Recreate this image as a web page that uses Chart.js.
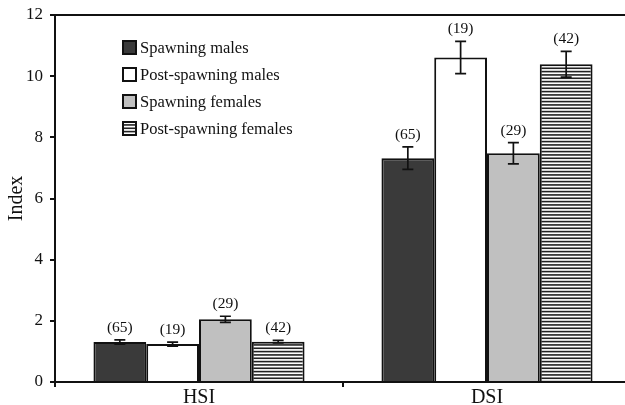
<!DOCTYPE html>
<html>
<head>
<meta charset="utf-8">
<script src="https://cdn.jsdelivr.net/npm/chart.js@4.4.1/dist/chart.umd.min.js"></script>
<style>
html,body{margin:0;padding:0;background:#fff;overflow:hidden;width:625px;height:405px;}
canvas{display:block;}
</style>
</head>
<body>
<canvas id="c" width="632" height="405"></canvas>
<script>
// ---- data ----
const categories = ["HSI", "DSI"];
const seriesNames = ["Spawning males", "Post-spawning males", "Spawning females", "Post-spawning females"];
const spawningMales = [1.31, 7.32];
const postSpawningMales = [1.24, 10.61];
const spawningFemales = [2.05, 7.48];
const postSpawningFemales = [1.32, 10.39];
const errSpawningMales = [0.07, 0.37];
const errPostSpawningMales = [0.065, 0.53];
const errSpawningFemales = [0.1, 0.35];
const errPostSpawningFemales = [0.04, 0.42];
const nSpawningMales = [65, 65];
const nPostSpawningMales = [19, 19];
const nSpawningFemales = [29, 29];
const nPostSpawningFemales = [42, 42];
const yTicks = [0, 2, 4, 6, 8, 10, 12];

const SERIF = '"Liberation Serif", "DejaVu Serif", serif';
const INK = '#111111';

function stripePattern(ctx) {
  const p = document.createElement('canvas');
  p.width = 8; p.height = 10;
  const g = p.getContext('2d');
  g.fillStyle = '#ffffff';
  g.fillRect(0, 0, 8, 10);
  g.fillStyle = '#222222';
  [0, 3.33, 6.67].forEach(y => g.fillRect(0, y + 0.8, 8, 1.6));
  return ctx.createPattern(p, 'repeat');
}

const ctx = document.getElementById('c').getContext('2d');
const stripes = stripePattern(ctx);

const fills = ['#3a3a3a', '#ffffff', '#c0c0c0', stripes];
const values = [spawningMales, postSpawningMales, spawningFemales, postSpawningFemales];
const errors = [errSpawningMales, errPostSpawningMales, errSpawningFemales, errPostSpawningFemales];
const counts = [nSpawningMales, nPostSpawningMales, nSpawningFemales, nPostSpawningFemales];

const datasets = seriesNames.map((name, i) => ({
  label: name,
  data: values[i],
  errors: errors[i],
  counts: counts[i],
  backgroundColor: fills[i],
  borderColor: INK,
  borderWidth: 2,
  borderSkipped: 'bottom',
  categoryPercentage: 0.733,
  barPercentage: 1.0
}));

const extras = {
  id: 'extras',
  afterDatasetsDraw(chart) {
    const c = chart.ctx;
    const ys = chart.scales.y;
    const area = chart.chartArea;
    c.save();
    // top frame line
    c.strokeStyle = INK;
    c.lineWidth = 2;
    c.beginPath();
    c.moveTo(area.left - 5, area.top);
    c.lineTo(area.right, area.top);
    c.stroke();
    // error bars and n labels
    chart.data.datasets.forEach((ds, di) => {
      const meta = chart.getDatasetMeta(di);
      meta.data.forEach((el, i) => {
        const v = ds.data[i], e = ds.errors[i];
        const yTop = ys.getPixelForValue(v + e);
        const yBot = ys.getPixelForValue(v - e);
        const x = el.x;
        c.strokeStyle = INK;
        c.lineWidth = 1.7;
        c.beginPath();
        c.moveTo(x, yTop); c.lineTo(x, yBot);
        c.moveTo(x - 5.5, yTop); c.lineTo(x + 5.5, yTop);
        c.moveTo(x - 5.5, yBot); c.lineTo(x + 5.5, yBot);
        c.stroke();
        c.fillStyle = INK;
        c.font = '15.5px ' + SERIF;
        c.textAlign = 'center';
        c.textBaseline = 'middle';
        c.fillText('(' + ds.counts[i] + ')', x, yTop - 12);
      });
    });
    // legend
    const rowY = [47.5, 74.5, 101.5, 128.5];
    chart.data.datasets.forEach((ds, di) => {
      const y = rowY[di];
      const bx = 123, s = 13;
      c.fillStyle = ds.backgroundColor;
      c.fillRect(bx, y - s / 2, s, s);
      c.strokeStyle = INK;
      c.lineWidth = 2;
      c.strokeRect(bx, y - s / 2, s, s);
      c.fillStyle = INK;
      c.font = '16.5px ' + SERIF;
      c.textAlign = 'left';
      c.textBaseline = 'middle';
      c.fillText(ds.label, 140, y + 1);
    });
    c.restore();
  }
};

new Chart(ctx, {
  type: 'bar',
  data: { labels: categories, datasets },
  options: {
    responsive: false,
    devicePixelRatio: 1,
    animation: false,
    layout: { padding: { top: 15, right: 1, left: 0, bottom: 0 } },
    plugins: { legend: { display: false }, tooltip: { enabled: false } },
    scales: {
      x: {
        grid: { display: true, drawOnChartArea: false, drawTicks: true, tickLength: 5, color: INK, lineWidth: 2, offset: true },
        border: { display: true, color: INK, width: 2 },
        ticks: { color: INK, font: { family: SERIF, size: 20 }, padding: -1 },
        afterFit(scale) { scale.height = 23; scale.paddingLeft = 0; scale.paddingRight = 0; }
      },
      y: {
        min: 0, max: 12,
        afterBuildTicks(scale) { scale.ticks = yTicks.map(v => ({ value: v })); },
        grid: { display: true, drawOnChartArea: false, drawTicks: true, tickLength: 5, color: INK, lineWidth: 2 },
        border: { display: true, color: INK, width: 2 },
        ticks: { color: INK, font: { family: SERIF, size: 17 }, padding: 7 },
        title: { display: true, text: 'Index', color: INK, font: { family: SERIF, size: 20 }, padding: { top: 5, bottom: 0 } },
        afterFit(scale) { scale.width = 55; scale.paddingTop = 0; scale.paddingBottom = 0; }
      }
    }
  },
  plugins: [extras]
});
</script>
</body>
</html>
